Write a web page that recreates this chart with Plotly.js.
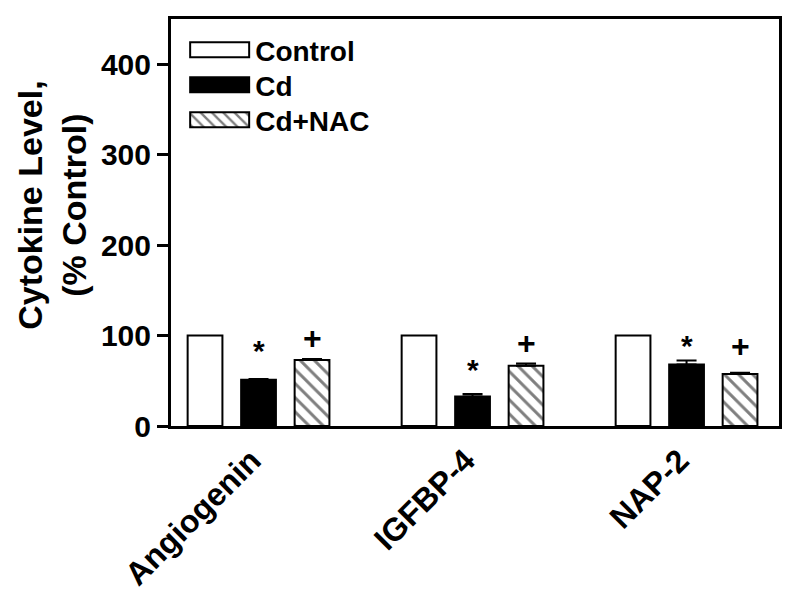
<!DOCTYPE html>
<html>
<head>
<meta charset="utf-8">
<script src="https://cdn.plot.ly/plotly-3.0.1.min.js"></script>
<style>html,body{margin:0;padding:0;background:#fff;}#chart{width:800px;height:611px;}</style>
</head>
<body>
<div id="chart"></div>
<script>
// ---- data ----
const categories = ["Angiogenin", "IGFBP-4", "NAP-2"];
const seriesNames = ["Control", "Cd", "Cd+NAC"];
const controlValues = [100, 100, 100];
const cdValues = [51, 32.5, 68];
const cdErrors = [1, 3, 4.5];
const nacValues = [73, 66.5, 57.5];
const nacErrors = [1, 2.5, 1.5];
const cdMarks = ["*", "*", "*"];
const cdMarkLevel = [84, 62, 89];
const nacMarks = ["+", "+", "+"];
const nacMarkLevel = [97, 92, 89];
const yTickValues = [0, 100, 200, 300, 400];
const yTickLabels = ["0", "100", "200", "300", "400"];
const yTitle = "Cytokine Level,<br>(% Control)";

const FONT = "Liberation Sans, Arial, sans-serif";
const zeros = a => a.map(() => 0);

const traces = [
  {
    type: "bar", name: seriesNames[0], x: categories, y: controlValues,
    marker: {color: "#ffffff", line: {color: "#000", width: 2}}
  },
  {
    type: "bar", name: seriesNames[1], x: categories, y: cdValues,
    marker: {color: "#000000", line: {color: "#000", width: 2}},
    error_y: {type: "data", array: cdErrors, arrayminus: zeros(cdErrors), symmetric: false,
              color: "#000", thickness: 2, width: 10}
  },
  {
    type: "bar", name: seriesNames[2], x: categories, y: nacValues,
    marker: {color: "#ffffff", line: {color: "#000", width: 2},
             pattern: {shape: "\\", fgcolor: "#000", bgcolor: "#fff", size: 10, solidity: 0.3, fillmode: "overlay"}},
    error_y: {type: "data", array: nacErrors, arrayminus: zeros(nacErrors), symmetric: false,
              color: "#000", thickness: 2, width: 10}
  }
];

const annotations = [];
categories.forEach((c, i) => {
  annotations.push({x: c, y: cdMarkLevel[i], xref: "x", yref: "y", text: cdMarks[i], showarrow: false,
    xshift: 0, yanchor: "middle", font: {family: FONT, size: 30, color: "#000", weight: "bold"}});
  annotations.push({x: c, y: nacMarkLevel[i], xref: "x", yref: "y", text: nacMarks[i], showarrow: false,
    xshift: 53.5, yanchor: "middle", font: {family: FONT, size: 32, color: "#000", weight: "bold"}});
});
// y-axis title drawn as a rotated annotation so it can sit where the reference puts it
annotations.push({xref: "paper", yref: "paper", x: -0.196, y: 0.543, xanchor: "center", yanchor: "middle",
  text: yTitle, textangle: -90, showarrow: false,
  font: {family: FONT, size: 34, color: "#000", weight: "bold"}});

const layout = {
  width: 800, height: 611,
  margin: {l: 171, r: 21, t: 19, b: 185},
  paper_bgcolor: "#fff", plot_bgcolor: "#fff",
  font: {family: FONT, color: "#000"},
  barmode: "group", bargap: 0.25, bargroupgap: 0.35,
  showlegend: true,
  legend: {
    x: 0.02, xanchor: "left", y: 0.985, yanchor: "top",
    bgcolor: "rgba(0,0,0,0)", borderwidth: 0,
    itemwidth: 62, itemclick: false,
    font: {family: FONT, size: 28, color: "#000", weight: "bold"}
  },
  xaxis: {
    type: "category", range: [-0.409, 2.432],
    showline: true, linecolor: "#000", linewidth: 3, mirror: true,
    ticks: "", tickangle: -45, ticklabelshift: -7,
    tickfont: {family: FONT, size: 32, color: "#000", weight: "bold"},
    showgrid: false, zeroline: false, fixedrange: true
  },
  yaxis: {
    range: [0, 450],
    tickvals: yTickValues, ticktext: yTickLabels,
    showline: true, linecolor: "#000", linewidth: 3, mirror: true,
    ticks: "outside", ticklen: 11, tickwidth: 3, tickcolor: "#000",
    tickfont: {family: FONT, size: 30, color: "#000", weight: "bold"},
    showgrid: false, zeroline: false, fixedrange: true
  },
  annotations: annotations
};

Plotly.newPlot("chart", traces, layout, {staticPlot: true, displayModeBar: false}).then(() => {
  // widen legend swatches to match reference's long rectangular keys
  document.querySelectorAll(".legend .legendpoints path").forEach(p => {
    p.setAttribute("d", "M30,7.5H-29V-7.5H30Z");
    p.style.strokeWidth = "2px";
  });
  // tighten legend row spacing to the reference's ~35px
  const items = document.querySelectorAll(".legend g.traces");
  let x0 = null, y0 = null;
  items.forEach((g, i) => {
    const m = /translate\(([-\d.]+),\s*([-\d.]+)\)/.exec(g.getAttribute("transform") || "");
    if (!m) return;
    if (i === 0) { x0 = parseFloat(m[1]); y0 = parseFloat(m[2]); }
    g.setAttribute("transform", "translate(" + x0 + "," + (y0 + i * 35) + ")");
  });
});
</script>
</body>
</html>
